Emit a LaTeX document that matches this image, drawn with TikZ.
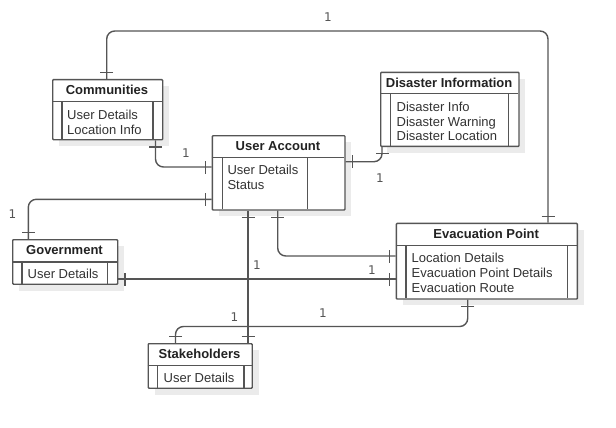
\documentclass[tikz,border=0pt]{standalone}
\usepackage{fontspec}
\setmainfont{Liberation Sans}
\newfontfamily\lblfont{DejaVu Sans}
\usetikzlibrary{decorations.markings}
\definecolor{lc}{HTML}{555555}
\definecolor{tc}{HTML}{222222}
\definecolor{ac}{HTML}{333333}
\definecolor{shc}{HTML}{EBEBEB}
\tikzset{
  ln/.style={draw=lc, line width=1.4pt},
  box/.style={ln, fill=white, anchor=north west, inner sep=0pt, rectangle, rounded corners=0.8pt},
  ttl/.style={font=\bfseries\fontsize{13}{15}\selectfont, text=tc, inner sep=0pt},
  attr/.style={font=\fontsize{13}{14.8}\selectfont, text=ac, align=left, anchor=north west, inner sep=0pt},
  lbl/.style={font=\lblfont\fontsize{12}{14}\selectfont, text=lc, inner sep=0pt},
  conn/.style={ln, rounded corners=8pt},
  tickmark/.style={ln, rounded corners=0pt},
  tk/.style={postaction={decorate, decoration={markings,
    mark=at position 6.5pt with {\draw[tickmark] (0pt,-6.5pt) -- (0pt,6.5pt);},
    mark=at position -6.5pt with {\draw[tickmark] (0pt,-6.5pt) -- (0pt,6.5pt);}}}}
}
% #1 name, #2 x, #3 y, #4 w, #5 h, #6 header h, #7 left bar dx, #8 right bar dx from right, #9 title
\newcommand\entbox[9]{%
  \fill[shc] (#2+7,#3+7) rectangle ++(#4,#5);
  \node[box, minimum width=#4pt, minimum height=#5pt] (#1) at (#2,#3) {};
  \draw[ln] (#2,#3+#6) -- ++(#4,0);
  \draw[ln] (#2+#7,#3+#6) -- (#2+#7,#3+#5);
  \draw[ln] (#2+#4-#8,#3+#6) -- (#2+#4-#8,#3+#5);
  \node[ttl] (#1-t) at (#2+#4/2,#3+#6/2) {#9};
}
\begin{document}
\begin{tikzpicture}[x=1pt, y=-1pt]
\useasboundingbox (0,0) rectangle (616,428);
\fill[white] (0,0) rectangle (616,428);

\entbox{com}{52}{79}{110}{60}{22.5}{10}{9}{Communities}
\node[attr] (com-a) at (67,110) {User Details\\Location Info};

\entbox{ua}{211.7}{135}{132.6}{74.3}{22.5}{10.5}{37}{User Account}
\node[attr] (ua-a) at (227.3,165) {User Details\\Status};

\entbox{dis}{380}{71.7}{138.3}{74}{22}{10.5}{10}{Disaster Information}
\node[attr] (dis-a) at (396.5,101.7) {Disaster Info\\Disaster Warning\\Disaster Location};

\entbox{gov}{12}{239}{105}{44.5}{23}{10}{9.3}{Government}
\node[attr] (gov-a) at (27.5,269) {User Details};

\entbox{evac}{395.7}{222.7}{181}{75.6}{23}{10.3}{9}{Evacuation Point}
\node[attr] (evac-a) at (411.5,253.3) {Location Details\\Evacuation Point Details\\Evacuation Route};

\entbox{stk}{147.5}{343}{104}{44.5}{22.7}{10}{7.5}{Stakeholders}
\node[attr] (stk-a) at (163.5,373.3) {User Details};

% connectors
\draw[conn,tk] (106.7,0 |- com.north) -- (106.7,31) -- (548,31) -- (548,0 |- evac.north);
\draw[conn,tk] (155.5,0 |- com.south) -- (155.5,167) -- (ua.west |- 0,167);
\draw[conn,tk] (ua.east |- 0,161.7) -- (382,161.7) -- (382,0 |- dis.south);
\draw[conn,tk] (28.3,0 |- gov.north) -- (28.3,199.3) -- (ua.west |- 0,199.3);
\draw[conn,tk] (gov.east |- 0,279) -- (evac.west |- 0,279);
\draw[conn,tk] (277.7,0 |- ua.south) -- (277.7,256) -- (evac.west |- 0,256);
\draw[conn,tk] (248,0 |- ua.south) -- (248,0 |- stk.north);
\draw[conn,tk] (175.5,0 |- stk.north) -- (175.5,326.5) -- (467.7,326.5) -- (467.7,0 |- evac.south);

% labels
\node[lbl] (l1) at (328,17) {1};
\node[lbl] (l2) at (186,153) {1};
\node[lbl] (l3) at (380,178) {1};
\node[lbl] (l4) at (12.5,214) {1};
\node[lbl] (l5) at (372,270) {1};
\node[lbl] (l6) at (257,265) {1};
\node[lbl] (l7) at (234.5,317.5) {1};
\node[lbl] (l8) at (323,313) {1};
\end{tikzpicture}
\end{document}
